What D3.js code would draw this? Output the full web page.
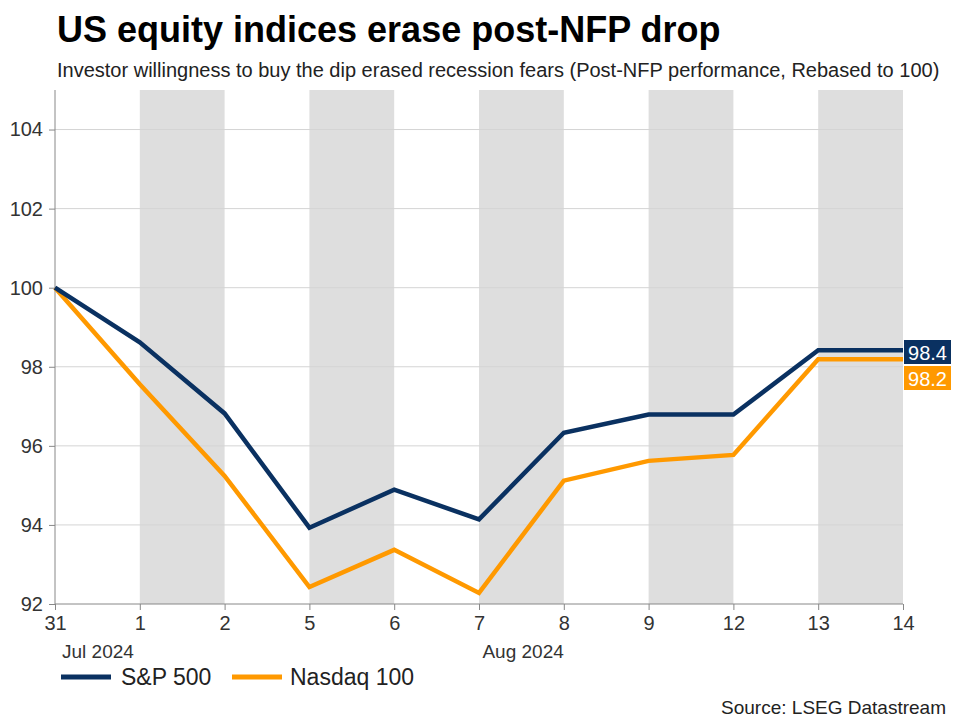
<!DOCTYPE html>
<html><head><meta charset="utf-8">
<script src="https://cdn.jsdelivr.net/npm/d3@7"></script>
<style>body{margin:0;background:#fff;}svg{display:block;font-family:"Liberation Sans",Arial,sans-serif;}</style>
</head><body>
<svg id="c" width="960" height="720"></svg>
<script>
const categories = ["31","1","2","5","6","7","8","9","12","13","14"];
const sp500 = [100, 98.62, 96.82, 93.93, 94.89, 94.14, 96.33, 96.79, 96.79, 98.42, 98.42];
const nasdaq = [100, 97.56, 95.24, 92.43, 93.37, 92.28, 95.12, 95.62, 95.77, 98.19, 98.19];
const yTicks = [92, 94, 96, 98, 100, 102, 104];
const shadedStarts = ["1","5","7","9","13"];
const monthLabels = [{at:"31", text:"Jul 2024", anchor:"start"}, {at:"8", text:"Aug 2024", anchor:"end"}];
const seriesNames = ["S&P 500", "Nasdaq 100"];
const colors = ["#0a3161", "#ff9900"];
const lastLabels = ["98.4", "98.2"];

const svg = d3.select("#c");
const x = d3.scalePoint().domain(categories).range([55, 903]);
const y = d3.scaleLinear().domain([92, 105]).range([604, 90]);

// shaded bands
shadedStarts.forEach(s => {
  const i = categories.indexOf(s);
  svg.append("rect").attr("x", x(categories[i])).attr("y", y(105))
    .attr("width", x(categories[i+1]) - x(categories[i])).attr("height", y(92) - y(105))
    .attr("fill", "#dedede");
});

// gridlines
svg.append("g").selectAll("line").data(yTicks.filter(d => d > 92)).join("line")
  .attr("x1", 55).attr("x2", 903).attr("y1", d => y(d)).attr("y2", d => y(d))
  .attr("stroke", "#d4d4d4").attr("stroke-width", 1);

// y axis
const ya = svg.append("g").attr("transform", "translate(55,0)")
  .call(d3.axisLeft(y).tickValues(yTicks).tickSize(6).tickPadding(6));
ya.select(".domain").attr("stroke", "#888").attr("d", `M0,${y(105)}V${y(92)}`);
ya.selectAll(".tick line").attr("stroke", "#888");
ya.selectAll("text").attr("font-size", 20).attr("fill", "#333").attr("font-family", "Liberation Sans, Arial, sans-serif");

// x axis
const xa = svg.append("g").attr("transform", `translate(0,${y(92)})`)
  .call(d3.axisBottom(x).tickSize(6).tickPadding(6));
xa.select(".domain").attr("stroke", "#888").attr("d", `M55,0H903`);
xa.selectAll(".tick line").attr("stroke", "#888");
xa.selectAll("text").attr("font-size", 20).attr("fill", "#333").attr("font-family", "Liberation Sans, Arial, sans-serif");

monthLabels.forEach(m => {
  svg.append("text").attr("x", m.anchor === "start" ? x(m.at) + 7 : x(m.at))
    .attr("y", 658).attr("text-anchor", m.anchor).attr("font-size", 19).attr("fill", "#333").text(m.text);
});

// lines
const line = d3.line().x((d, i) => x(categories[i])).y(d => y(d));
[sp500, nasdaq].slice().reverse().forEach((s, k) => {
  const idx = 1 - k;
  svg.append("path").attr("d", line(s)).attr("fill", "none")
    .attr("stroke", colors[idx]).attr("stroke-width", 4.5).attr("stroke-linejoin", "miter");
});

// end labels
const lblY = [352, 378];
[sp500, nasdaq].forEach((s, i) => {
  svg.append("rect").attr("x", 904).attr("y", lblY[i] - 12).attr("width", 47).attr("height", 24).attr("fill", colors[i]);
  svg.append("text").attr("x", 927.5).attr("y", lblY[i] + 7.5).attr("text-anchor", "middle")
    .attr("font-size", 20).attr("fill", "#fff").text(lastLabels[i]);
});

// legend
const lg = [{x:61, tx:121}, {x:232, tx:290}];
seriesNames.forEach((n, i) => {
  svg.append("line").attr("x1", lg[i].x).attr("x2", lg[i].x + 50).attr("y1", 677).attr("y2", 677)
    .attr("stroke", colors[i]).attr("stroke-width", 5);
  svg.append("text").attr("x", lg[i].tx).attr("y", 685).attr("font-size", 23).attr("fill", "#222").text(n);
});

// titles
svg.append("text").attr("x", 57).attr("y", 42).attr("font-size", 36).attr("font-weight", "bold").attr("fill", "#000")
  .text("US equity indices erase post-NFP drop");
svg.append("text").attr("x", 57).attr("y", 77).attr("font-size", 20).attr("fill", "#222")
  .text("Investor willingness to buy the dip erased recession fears (Post-NFP performance, Rebased to 100)");
svg.append("text").attr("x", 946).attr("y", 714).attr("text-anchor", "end").attr("font-size", 19).attr("fill", "#222")
  .text("Source: LSEG Datastream");
</script>
</body></html>
